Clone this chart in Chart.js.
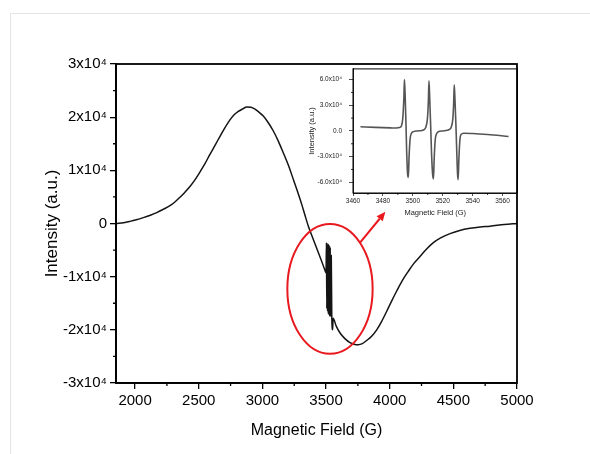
<!DOCTYPE html>
<html>
<head>
<meta charset="utf-8">
<script src="https://cdn.jsdelivr.net/npm/chart.js@4.4.0/dist/chart.umd.min.js"></script>
<style>
  html, body { margin: 0; padding: 0; background: #fff; }
  #wrap { position: relative; width: 590px; height: 454px; overflow: hidden; }
  #frame { position: absolute; left: 10px; top: 13px; right: -2px; bottom: -2px;
           border-top: 1px solid #e4e4e4; border-left: 1px solid #e4e4e4; }
  #main { position: absolute; left: 0; top: 0; }
  #inset { position: absolute; left: 300px; top: 58px; }
</style>
</head>
<body>
<div id="wrap">
  <div id="frame"></div>
  <canvas id="main" width="590" height="454"></canvas>
  <canvas id="inset" width="226" height="164"></canvas>
</div>
<script>
// main spectrum (G, a.u.)
const fieldG = [1852, 1910, 1960, 2010, 2065, 2120, 2170, 2220, 2274, 2315, 2353, 2390, 2431, 2470, 2510, 2550,
  2588, 2630, 2667, 2705, 2745, 2780, 2811, 2845, 2877, 2910, 2942, 2975, 3007, 3045, 3086, 3125, 3164, 3205,
  3243, 3276, 3309, 3335, 3361, 3400, 3440, 3470, 3490, 3500,
  3503, 3506, 3509, 3512, 3515, 3518, 3521, 3524, 3527, 3530, 3533, 3537, 3541, 3545, 3552, 3555,
  3580, 3610, 3650, 3688, 3720, 3753, 3785, 3819, 3858, 3898, 3937, 3977, 4015, 4055, 4100, 4146, 4190,
  4238, 4290, 4343, 4400, 4474, 4550, 4631, 4710, 4788, 4900, 5000];
const intensity = [0, 150, 400, 700, 1100, 1550, 2050, 2650, 3350, 4100, 4950, 5850, 6950, 8200, 9700, 11300,
  13000, 14800, 16400, 18000, 19500, 20500, 21100, 21550, 21900, 21850, 21500, 20900, 20200, 19000, 17400, 15500, 13300, 10900,
  8300, 6000, 3600, 1500, -500, -3000, -5500, -7400, -8700, -9300,
  -3600, -16000, -3800, -16500, -3800, -17000, -4000, -17200, -4200, -17500, -4500, -17500, -6000, -17500, -20000, -17800,
  -19300, -20600, -21700, -22400, -22700, -22800, -22600, -22000, -21200, -20000, -18400, -16500, -14600, -12700, -10700, -9000, -7500,
  -6200, -4800, -3600, -2700, -1900, -1300, -900, -650, -500, -200, 0];

// inset: zoom on the three narrow lines
const insetField = [3465, 3475, 3485, 3489, 3491, 3492.5, 3493.3, 3494.0, 3494.4, 3494.9, 3495.4, 3495.9, 3496.5, 3497.0,
  3497.5, 3498.2, 3499.0, 3500.5, 3503, 3506, 3507.5, 3508.8, 3509.8, 3510.4, 3510.8, 3511.3, 3511.9, 3512.5, 3513.2,
  3513.8, 3514.3, 3515.0, 3515.8, 3517, 3520, 3523, 3524.5, 3525.8, 3526.8, 3527.3, 3527.7, 3528.2, 3528.8, 3529.4,
  3529.9, 3530.3, 3530.8, 3531.5, 3532.3, 3534, 3540, 3550, 3564];
const insetIntensity = [4900, 4200, 3600, 3400, 3900, 6500, 15000, 38000, 60000, 40000, 10000, -25000, -50000, -54300,
  -30000, -9000, -3000, -800, 0, 600, 1500, 5000, 15000, 35000, 58500, 38000, 8000, -25000, -50000,
  -56000, -32000, -10000, -3500, -1000, 0, 700, 1800, 5000, 15000, 32000, 54000, 36000, 8000, -25000,
  -50000, -57000, -33000, -10000, -4000, -2600, -3000, -4200, -6400];

// ticks
const xTicks = [2000, 2500, 3000, 3500, 4000, 4500, 5000];
const xMinor = [2250, 2750, 3250, 3750, 4250, 4750];
const yTicks = [-30000, -20000, -10000, 0, 10000, 20000, 30000];
const yTickLabels = ['-3x10⁴', '-2x10⁴', '-1x10⁴', '0', '1x10⁴', '2x10⁴', '3x10⁴'];
const yMinor = [-25000, -15000, -5000, 5000, 15000, 25000];

const insetXTicks = [3460, 3480, 3500, 3520, 3540, 3560];
const insetXMinor = [3470, 3490, 3510, 3530, 3550];
const insetYTicks = [-60000, -30000, 0, 30000, 60000];
const insetYTickLabels = ['-6.0x10⁴', '-3.0x10⁴', '0.0', '3.0x10⁴', '6.0x10⁴'];
const insetYMinor = [-45000, -15000, 15000, 45000];

// red callout (data coords of main plot)
const circleCenter = [3531, -12300];
const circleRadius = [335, 12200];
const arrowFrom = [3767, -3600];
const arrowTo = [3966, 2200];

const FONT = "'Liberation Sans', Arial, sans-serif";

const boxPlugin = {
  id: 'box',
  afterDraw(chart, args, opts) {
    const ctx = chart.ctx, a = chart.chartArea;
    const xs = chart.scales.x, ys = chart.scales.y;
    ctx.save();
    ctx.strokeStyle = '#000';
    ctx.lineWidth = opts.width;
    ctx.strokeRect(a.left, a.top, a.right - a.left, a.bottom - a.top);
    ctx.lineWidth = opts.tickWidth;
    ctx.beginPath();
    opts.minorX.forEach(v => {
      const p = xs.getPixelForValue(v);
      ctx.moveTo(p, a.bottom); ctx.lineTo(p, a.bottom + opts.minorLen);
    });
    opts.minorY.forEach(v => {
      const p = ys.getPixelForValue(v);
      ctx.moveTo(a.left, p); ctx.lineTo(a.left - opts.minorLen, p);
    });
    ctx.stroke();
    ctx.restore();
  }
};

const calloutPlugin = {
  id: 'callout',
  afterDraw(chart) {
    const ctx = chart.ctx, xs = chart.scales.x, ys = chart.scales.y;
    const cx = xs.getPixelForValue(circleCenter[0]);
    const cy = ys.getPixelForValue(circleCenter[1]);
    const rx = Math.abs(xs.getPixelForValue(circleCenter[0] + circleRadius[0]) - cx);
    const ry = Math.abs(ys.getPixelForValue(circleCenter[1] + circleRadius[1]) - cy);
    ctx.save();
    ctx.strokeStyle = '#e8191f';
    ctx.fillStyle = '#e8191f';
    ctx.lineWidth = 2;
    ctx.beginPath();
    ctx.ellipse(cx, cy, rx, ry, 0, 0, Math.PI * 2);
    ctx.stroke();
    const x0 = xs.getPixelForValue(arrowFrom[0]), y0 = ys.getPixelForValue(arrowFrom[1]);
    const x1 = xs.getPixelForValue(arrowTo[0]), y1 = ys.getPixelForValue(arrowTo[1]);
    const ang = Math.atan2(y1 - y0, x1 - x0);
    const hl = 9, hw = 4;
    ctx.beginPath();
    ctx.moveTo(x0, y0);
    ctx.lineTo(x1 - hl * Math.cos(ang), y1 - hl * Math.sin(ang));
    ctx.stroke();
    ctx.beginPath();
    ctx.moveTo(x1, y1);
    ctx.lineTo(x1 - hl * Math.cos(ang) + hw * Math.sin(ang), y1 - hl * Math.sin(ang) - hw * Math.cos(ang));
    ctx.lineTo(x1 - hl * Math.cos(ang) - hw * Math.sin(ang), y1 - hl * Math.sin(ang) + hw * Math.cos(ang));
    ctx.closePath();
    ctx.fill();
    ctx.restore();
  }
};

new Chart(document.getElementById('main'), {
  type: 'line',
  data: {
    datasets: [{
      data: fieldG.map((x, i) => ({ x: x, y: intensity[i] })),
      borderColor: '#141414',
      borderWidth: 1.5,
      pointRadius: 0,
      cubicInterpolationMode: 'monotone'
    }]
  },
  options: {
    responsive: false,
    animation: false,
    layout: { padding: { left: 0, right: 73, top: 64, bottom: 0 } },
    plugins: {
      legend: { display: false },
      tooltip: { enabled: false },
      box: { width: 1.8, tickWidth: 1.3, minorLen: 3, minorX: xMinor, minorY: yMinor }
    },
    scales: {
      x: {
        type: 'linear', min: 1850, max: 5000,
        afterBuildTicks: s => { s.ticks = xTicks.map(v => ({ value: v })); },
        afterFit: s => { s.height = 71; },
        grid: { drawOnChartArea: false, tickLength: 6, color: '#000', lineWidth: 1.3 },
        border: { color: '#000', width: 1.8 },
        ticks: { color: '#000', font: { family: FONT, size: 15 }, padding: 3, maxRotation: 0,
                 callback: v => String(v) },
        title: { display: true, text: 'Magnetic Field (G)', color: '#000',
                 font: { family: FONT, size: 16 }, padding: { top: 0, bottom: 14 } }
      },
      y: {
        type: 'linear', min: -30000, max: 30000,
        afterBuildTicks: s => { s.ticks = yTicks.map(v => ({ value: v })); },
        afterFit: s => { s.width = 116; },
        grid: { drawOnChartArea: false, tickLength: 6, color: '#000', lineWidth: 1.3 },
        border: { color: '#000', width: 1.8 },
        ticks: { color: '#000', font: { family: FONT, size: 15 }, padding: 3,
                 callback: v => yTickLabels[yTicks.indexOf(v)] },
        title: { display: true, text: 'Intensity (a.u.)', color: '#000',
                 font: { family: FONT, size: 17 }, padding: { top: 42, bottom: 0 } }
      }
    }
  },
  plugins: [boxPlugin, calloutPlugin]
});

new Chart(document.getElementById('inset'), {
  type: 'line',
  data: {
    datasets: [{
      data: insetField.map((x, i) => ({ x: x, y: insetIntensity[i] })),
      borderColor: '#555',
      borderWidth: 1.6,
      pointRadius: 0,
      cubicInterpolationMode: 'monotone'
    }]
  },
  options: {
    responsive: false,
    animation: false,
    layout: { padding: { left: 0, right: 8.5, top: 8, bottom: 0 } },
    plugins: {
      legend: { display: false },
      tooltip: { enabled: false },
      box: { width: 1, tickWidth: 0.8, minorLen: 2, minorX: insetXMinor, minorY: insetYMinor }
    },
    scales: {
      x: {
        type: 'linear', min: 3460, max: 3570,
        afterBuildTicks: s => { s.ticks = insetXTicks.map(v => ({ value: v })); },
        afterFit: s => { s.height = 29; },
        grid: { drawOnChartArea: false, tickLength: 3, color: '#222', lineWidth: 0.8 },
        border: { color: '#222', width: 1 },
        ticks: { color: '#222', font: { family: FONT, size: 6.5 }, padding: 1, maxRotation: 0,
                 callback: v => String(v) },
        title: { display: true, text: 'Magnetic Field (G)', color: '#222',
                 font: { family: FONT, size: 7.5 }, padding: { top: 0, bottom: 5 } }
      },
      y: {
        type: 'linear', min: -72500, max: 72500,
        afterBuildTicks: s => { s.ticks = insetYTicks.map(v => ({ value: v })); },
        afterFit: s => { s.width = 53; },
        grid: { drawOnChartArea: false, tickLength: 4, color: '#222', lineWidth: 0.8 },
        border: { color: '#222', width: 1 },
        ticks: { color: '#222', font: { family: FONT, size: 6.5 }, padding: 7,
                 callback: v => insetYTickLabels[insetYTicks.indexOf(v)] },
        title: { display: true, text: 'Intensity (a.u.)', color: '#222',
                 font: { family: FONT, size: 7.5 }, padding: { top: 7, bottom: 0 } }
      }
    }
  },
  plugins: [boxPlugin]
});
</script>
</body>
</html>
